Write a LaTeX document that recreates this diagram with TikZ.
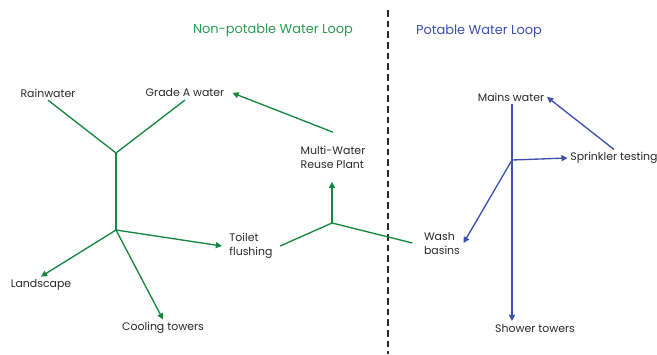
\documentclass[tikz,border=0pt]{standalone}
\usepackage{fontspec}
\setmainfont{Poppins}
\usetikzlibrary{arrows.meta}
\definecolor{loopgreen}{RGB}{22,135,65}
\definecolor{titlegreen}{RGB}{40,155,80}
\definecolor{loopblue}{RGB}{60,80,175}
\definecolor{labelgray}{RGB}{40,40,40}

\begin{document}
\begin{tikzpicture}[x=0.75pt,y=-0.75pt]
	\tikzstyle{every node}=[font=\fontsize{8.2}{10.5}\selectfont, text=labelgray, inner sep=2pt]
	\tikzstyle{nonpot}=[draw=loopgreen, line width=1pt]
	\tikzstyle{pot}=[draw=loopblue, line width=1pt]
	\tikzstyle{tip}=[-{Triangle[length=4.5pt,width=4.5pt]}]
	\tikzstyle{twoline}=[align=left]
	\useasboundingbox (0,0) rectangle (657,354);

	% loop titles and the split between them
	\node[text=titlegreen, font=\fontsize{9.7}{11}\selectfont] (nptitle) at (273,30) {Non-potable Water Loop};
	\node[text=loopblue, font=\fontsize{9.7}{11}\selectfont] (ptitle) at (479,31) {Potable Water Loop};
	\draw[labelgray, line width=0.8pt, dash pattern=on 5pt off 3pt] (388,10) -- (388,354);

	% non-potable side
	\node (rain) at (48,93) {Rainwater};
	\node[inner xsep=6pt] (gradeA) at (185,93) {Grade A water};
	\node (landscape) at (41,285) {Landscape};
	\node (cooling) at (163,328) {Cooling towers};
	\node[twoline, inner xsep=5.5pt] (toilet) at (251,246) {Toilet\\flushing};
	\node[twoline, inner ysep=10pt] (plant) at (333,157) {Multi-Water\\Reuse Plant};
	\node[twoline, inner xsep=2.5pt] (wash) at (442,243) {Wash\\basins};

	\coordinate (jtop) at (116,153);
	\coordinate (jlow) at (116,230);
	\coordinate (jplant) at (332,223);

	\draw[nonpot] (rain.south) -- (jtop) -- (gradeA.south);
	\draw[nonpot] (jtop) -- (jlow);
	\draw[nonpot, tip] (jlow) -- (landscape.north);
	\draw[nonpot, tip] (jlow) -- (cooling.north);
	\draw[nonpot, tip] (jlow) -- (toilet.west);
	\draw[nonpot] (toilet.east) -- (jplant) -- ([xshift=-6pt]wash.west);
	\draw[nonpot, tip] (jplant) -- (jplant |- plant.south);
	\draw[nonpot, tip] (plant.north) -- (gradeA.east);

	% potable side
	\node (mains) at (511,97) {Mains water};
	\node (sprinkler) at (614,158) {Sprinkler testing};
	\node (shower) at (535,328) {Shower towers};

	\coordinate (jmain) at (512,160);

	\draw[pot] (jmain |- mains.south) -- (jmain);
	\draw[pot, tip] (jmain) -- (jmain |- shower.north);
	\draw[pot, tip] (jmain) -- (sprinkler.west);
	\draw[pot, tip] (jmain) -- (wash.east);
	\draw[pot, tip] (sprinkler.north) -- (mains.east);

\end{tikzpicture}
\end{document}
